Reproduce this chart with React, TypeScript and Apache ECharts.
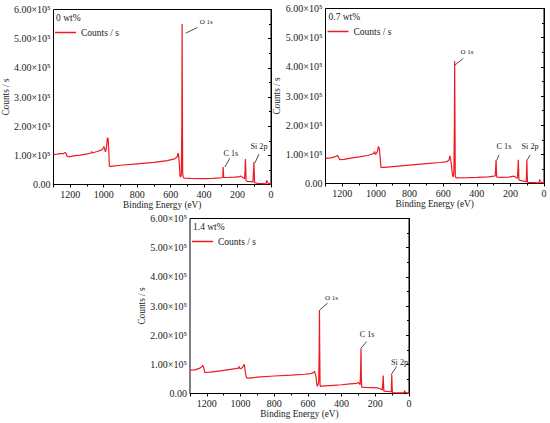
import React, { useEffect, useRef } from "react";
import * as echarts from "echarts";

// ---------- data ----------
const panelTitles = ["0 wt%", "0.7 wt%", "1.4 wt%"];
const seriesName = "Counts / s";
const xTicks = [1200, 1000, 800, 600, 400, 200, 0];

const energy0 = [1300, 1280, 1260, 1240, 1232, 1226, 1218, 1210, 1180, 1140, 1100, 1075, 1072, 1068, 1040, 1015, 1005, 1000, 995, 990, 985, 978, 974, 970, 966, 955, 900, 800, 700, 620, 590, 575, 568, 560, 556, 552, 548, 544, 540, 536, 533, 531.5, 530, 528, 525, 520, 480, 400, 350, 300, 288, 286, 284.5, 283, 260, 220, 190, 180, 175, 165, 158, 155, 153, 151, 149, 140, 120, 108, 104, 102, 100, 98, 80, 50, 30, 27, 25, 23, 15, 5, 0];
const counts0 = [103000, 104000, 106000, 106000, 110000, 108000, 96000, 95000, 98000, 101000, 105000, 108000, 113000, 108000, 113000, 118000, 122000, 130000, 124000, 112000, 120000, 160000, 158000, 120000, 62000, 62000, 66000, 71000, 76000, 82000, 86000, 88000, 92000, 95000, 108000, 100000, 70000, 30000, 25000, 35000, 200000, 550000, 300000, 40000, 25000, 22000, 21000, 20000, 21000, 23000, 25000, 60000, 58000, 24000, 24000, 25000, 26000, 29000, 27000, 22000, 20000, 50000, 87000, 60000, 12000, 11000, 10000, 9000, 50000, 77000, 40000, 6000, 4000, 3000, 2000, 10000, 15000, 8000, 4000, 2000, 1000];

const energy1 = [1300, 1270, 1245, 1235, 1230, 1224, 1216, 1190, 1150, 1100, 1050, 1020, 1012, 1008, 1004, 998, 992, 985, 980, 975, 970, 950, 900, 800, 700, 620, 585, 575, 566, 560, 556, 550, 545, 540, 536, 533, 531.5, 530, 528, 525, 520, 450, 400, 330, 300, 290, 287, 285, 283, 281, 250, 210, 180, 175, 165, 158, 155, 153, 151, 149, 130, 115, 105, 104, 102, 100, 98, 60, 30, 27, 25, 23, 10, 0];
const counts1 = [86000, 88000, 91000, 94000, 96000, 92000, 82000, 83000, 87000, 91000, 96000, 101000, 104000, 110000, 100000, 103000, 108000, 127000, 120000, 90000, 55000, 55000, 58000, 63000, 68000, 72000, 74000, 76000, 80000, 95000, 85000, 60000, 30000, 22000, 40000, 200000, 420000, 250000, 30000, 20000, 19000, 20000, 21000, 23000, 25000, 26000, 60000, 81000, 40000, 22000, 21000, 22000, 25000, 24000, 20000, 18000, 50000, 81000, 50000, 12000, 9000, 7000, 6000, 40000, 81000, 30000, 4000, 3000, 2000, 8000, 14000, 5000, 3000, 2000];

const energy2 = [1300, 1270, 1245, 1230, 1224, 1218, 1212, 1180, 1130, 1080, 1030, 1012, 1008, 1004, 995, 985, 978, 974, 968, 962, 950, 900, 800, 700, 620, 585, 575, 566, 562, 558, 552, 547, 542, 536, 533, 531.5, 530, 528, 525, 520, 450, 400, 350, 310, 300, 295, 290, 287, 285, 283, 281, 260, 220, 185, 178, 165, 158, 155, 153, 151, 149, 130, 110, 105, 104, 102, 100, 98, 60, 30, 28, 26, 24, 10, 0];
const counts2 = [80000, 81000, 86000, 92000, 96000, 88000, 72000, 73000, 77000, 81000, 85000, 87000, 93000, 85000, 86000, 92000, 100000, 85000, 60000, 53000, 53000, 56000, 60000, 63000, 66000, 68000, 70000, 72000, 76000, 70000, 58000, 30000, 25000, 40000, 150000, 286000, 150000, 30000, 24000, 25000, 28000, 30000, 33000, 35000, 38000, 34000, 30000, 80000, 155000, 60000, 22000, 21000, 20000, 19000, 17000, 15000, 12000, 40000, 62000, 30000, 8000, 7000, 6000, 5000, 30000, 64000, 20000, 3000, 2000, 2000, 6000, 10000, 4000, 2000, 1000];

// peak annotations in data units: label text position, leader start, leader end
const peakNames = ["O 1s", "C 1s", "Si 2p"];
const peakText0 = [[387, 557000], [240, 107000], [72, 129000]];
const peakFrom0 = [[510, 519000], [276, 60000], [96, 74000]];
const peakTo0 = [[440, 538000], [246, 90000], [72, 104000]];
const peakText1 = [[458, 450000], [238, 126000], [83, 126000]];
const peakFrom1 = [[530, 406000], [280, 81000], [99, 81000]];
const peakTo1 = [[480, 429000], [268, 98000], [83, 98000]];
const peakText2 = [[460, 328000], [249, 201000], [56, 106000]];
const peakFrom2 = [[529, 287000], [285, 156000], [107, 64000]];
const peakTo2 = [[483, 310000], [251, 178000], [73, 93000]];

const energies = [energy0, energy1, energy2];
const counts = [counts0, counts1, counts2];
const peakTexts = [peakText0, peakText1, peakText2];
const peakFroms = [peakFrom0, peakFrom1, peakFrom2];
const peakTos = [peakTo0, peakTo1, peakTo2];

// ---------- layout / style ----------
const FONT = "Liberation Serif";
const RED = "#f01820";
const TXT = "#1a1a1a";
const grids = [
  { left: 53, top: 9.5, width: 218, height: 175 },
  { left: 325.5, top: 8.5, width: 218.5, height: 175 },
  { left: 190, top: 218.5, width: 219, height: 175 },
];

export default function App() {
  const ref = useRef<HTMLDivElement>(null);
  useEffect(() => {
    if (!ref.current) return;
    const chart = echarts.init(ref.current, undefined, { renderer: "svg" });
    const xAxes: any[] = [];
    const yAxes: any[] = [];
    const series: any[] = [];
    const titles: any[] = [];
    const legends: any[] = [];
    grids.forEach((g, i) => {
      xAxes.push({
        gridIndex: i,
        type: "value",
        min: 0,
        max: 1300,
        interval: 200,
        inverse: true,
        name: "Binding Energy (eV)",
        nameLocation: "middle",
        nameGap: 16,
        nameTextStyle: { fontFamily: FONT, fontSize: 9.3, color: TXT },
        axisLine: { show: true, lineStyle: { color: "#000", width: 1 } },
        axisTick: { show: true, length: 3, lineStyle: { color: "#000" } },
        minorTick: { show: true, splitNumber: 2, length: 2, lineStyle: { color: "#000" } },
        splitLine: { show: false },
        axisLabel: {
          margin: 5,
          fontFamily: FONT,
          fontSize: 10,
          color: TXT,
          formatter: (v: number) => (xTicks.includes(v) ? String(v) : ""),
        },
      });
      yAxes.push({
        gridIndex: i,
        type: "value",
        min: 0,
        max: 600000,
        interval: 100000,
        name: seriesName,
        nameLocation: "middle",
        nameGap: 40,
        nameTextStyle: { fontFamily: FONT, fontSize: 9.3, color: TXT },
        axisLine: { show: true, lineStyle: { color: "#000", width: 1 } },
        axisTick: { show: true, length: 3, lineStyle: { color: "#000" } },
        minorTick: { show: true, splitNumber: 2, length: 2, lineStyle: { color: "#000" } },
        splitLine: { show: false },
        axisLabel: {
          margin: 3,
          fontFamily: FONT,
          fontSize: 10,
          color: TXT,
          formatter: (v: number) =>
            v === 0 ? "0.00" : `${(v / 100000).toFixed(2)}×10⁵`,
        },
      });
      const data = energies[i].map((e, k) => [e, counts[i][k]]);
      series.push({
        type: "line",
        name: seriesName,
        xAxisIndex: i,
        yAxisIndex: i,
        data,
        symbol: "none",
        lineStyle: { color: RED, width: 1.2 },
        itemStyle: { color: RED },
        markLine: {
          silent: true,
          symbol: "none",
          label: { show: false },
          lineStyle: { color: "#222", width: 0.8, type: "solid" },
          data: peakFroms[i].map((f, k) => [{ coord: f }, { coord: peakTos[i][k] }]),
        },
        markPoint: {
          silent: true,
          symbol: "circle",
          symbolSize: 0,
          data: peakTexts[i].map((p, k) => ({
            coord: p,
            label: {
              show: true,
              position: "inside",
              formatter: peakNames[k],
              fontFamily: FONT,
              fontSize: k === 0 ? 7 : 8.2,
              color: TXT,
            },
          })),
        },
      });
      titles.push({
        text: panelTitles[i],
        left: g.left + 3,
        top: g.top + 3,
        padding: 0,
        textStyle: { fontFamily: FONT, fontSize: 9.5, fontWeight: "normal", color: TXT },
      });
      legends.push({
        data: [seriesName],
        left: g.left + 2,
        top: g.top + 18,
        padding: 0,
        icon: "rect",
        itemWidth: 21,
        itemHeight: 1.5,
        textStyle: { fontFamily: FONT, fontSize: 9.5, color: TXT },
      });
    });
    chart.setOption({
      animation: false,
      backgroundColor: "#fff",
      textStyle: { fontFamily: FONT },
      title: titles,
      legend: legends,
      grid: grids.map((g) => ({ ...g, show: true, borderColor: "#000", borderWidth: 1, backgroundColor: "transparent" })),
      xAxis: xAxes,
      yAxis: yAxes,
      series,
    });
    return () => chart.dispose();
  }, []);
  return (
    <div
      ref={ref}
      style={{ position: "fixed", left: 0, top: 0, width: 550, height: 423 }}
    />
  );
}
